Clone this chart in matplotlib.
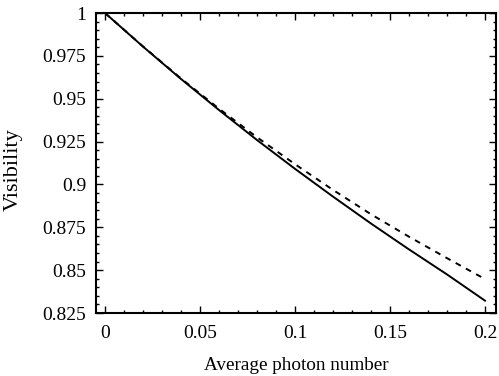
import matplotlib
matplotlib.use("Agg")
import matplotlib.pyplot as plt
from matplotlib.ticker import MultipleLocator, FixedLocator

photon_number = [0.0, 0.02, 0.04, 0.06, 0.08, 0.10, 0.12, 0.14, 0.16, 0.18, 0.20]
visibility_solid = [1.0, 0.9804, 0.9615, 0.9434, 0.9259, 0.9091, 0.8929, 0.8772, 0.8621, 0.8475, 0.8322]
visibility_dashed = [1.0, 0.9805, 0.9618, 0.9442, 0.9275, 0.9118, 0.8968, 0.8826, 0.8695, 0.8570, 0.8448]

x_ticks = [0, 0.05, 0.1, 0.15, 0.2]
x_tick_labels = ["0", "0.05", "0.1", "0.15", "0.2"]
y_ticks = [0.825, 0.85, 0.875, 0.9, 0.925, 0.95, 0.975, 1.0]
y_tick_labels = ["0.825", "0.85", "0.875", "0.9", "0.925", "0.95", "0.975", "1"]

plt.rcParams['font.family'] = ['Liberation Serif', 'DejaVu Serif']

fig = plt.figure(figsize=(4.99, 3.76), dpi=100)
ax = fig.add_axes([96/499, 1 - 313/376, 400/499, 300/376])

ax.plot(photon_number, visibility_solid, color='black', lw=1.4)
ax.plot(photon_number, visibility_dashed, color='black', lw=1.4, dashes=(3.0, 3.0))

ax.set_xlim(-0.00474, 0.2058)
ax.set_ylim(0.825, 1.0)

ax.xaxis.set_major_locator(FixedLocator(x_ticks))
ax.set_xticklabels(x_tick_labels)
ax.yaxis.set_major_locator(FixedLocator(y_ticks))
ax.set_yticklabels(y_tick_labels)
ax.xaxis.set_minor_locator(MultipleLocator(0.01))
ax.yaxis.set_minor_locator(MultipleLocator(0.005))

ax.tick_params(which='both', direction='in', top=True, right=True, labelsize=14, width=1.0)
ax.tick_params(which='major', length=5)
ax.tick_params(which='minor', length=2.5)
ax.tick_params(axis='x', which='major', pad=9)
ax.tick_params(axis='y', which='major', pad=7)

for s in ax.spines.values():
    s.set_linewidth(1.5)

ax.set_xlabel("Average photon number", fontsize=13.8, va='center')
ax.xaxis.set_label_coords(0.5, (313 - 365) / 300)
ax.set_ylabel("Visibility", fontsize=16, va='center')
ax.yaxis.set_label_coords((13 - 96) / 400, (313 - 170) / 300)

fig.savefig("out.png", dpi=100)
